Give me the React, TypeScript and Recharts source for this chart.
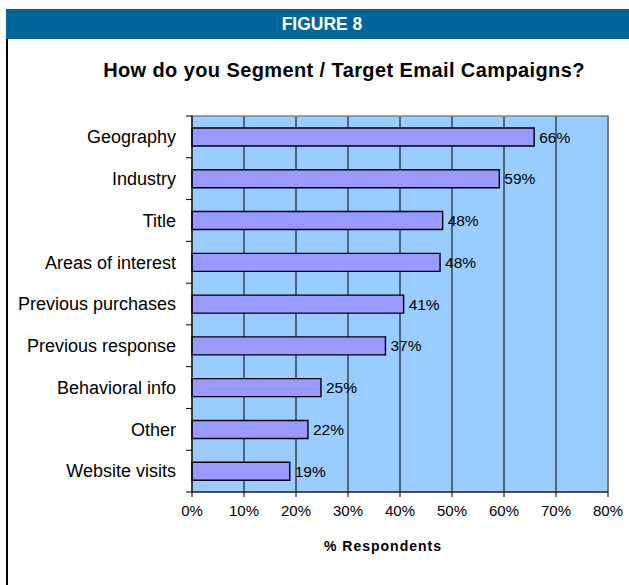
import { BarChart, Bar, XAxis, YAxis, CartesianGrid, LabelList, ReferenceArea } from 'recharts'

const categories = [
  'Geography', 'Industry', 'Title', 'Areas of interest', 'Previous purchases',
  'Previous response', 'Behavioral info', 'Other', 'Website visits',
]
const respondents = [65.8, 59.1, 48.2, 47.7, 40.7, 37.2, 24.8, 22.3, 18.8]
const xTicks = [0, 10, 20, 30, 40, 50, 60, 70, 80]

const data = categories.map((name, i) => ({ name, value: respondents[i] }))

const W = 629
const H = 585
const PLOT_TOP = 116
const PLOT_BOTTOM = 492
const Y_AXIS_W = 192
const RIGHT = 21
const X_AXIS_H = 30
const BAND = (PLOT_BOTTOM - PLOT_TOP) / categories.length
const FONT = "'Liberation Sans', Arial, sans-serif"

const CategoryTick = ({ x, y, payload, index }: any) => {
  const axisX = x + 16
  const top = y - BAND / 2
  return (
    <g>
      <line x1={axisX - 6} x2={axisX} y1={top} y2={top} stroke="#000" />
      {index === categories.length - 1 && (
        <line x1={axisX - 6} x2={axisX} y1={top + BAND} y2={top + BAND} stroke="#000" />
      )}
      <text x={x} y={y} dy="0.35em" textAnchor="end" fontSize={18} fill="#000" fontFamily={FONT}>
        {payload.value}
      </text>
    </g>
  )
}

export default function App() {
  return (
    <div style={{ position: 'absolute', left: 0, top: 0, width: W, height: H, background: '#fff', fontFamily: FONT }}>
      <div style={{ position: 'absolute', left: 6, top: 9, width: W - 6, height: 30, background: '#006699' }} />
      <div style={{
        position: 'absolute', left: 222, top: 9, width: 200, height: 30,
        color: '#fff', display: 'flex', alignItems: 'center', justifyContent: 'center',
        fontWeight: 700, fontSize: 19, transform: 'scaleX(0.92)',
      }}>
        FIGURE 8
      </div>
      <div style={{ position: 'absolute', left: 6, top: 39, width: 1.5, height: H - 39, background: '#000' }} />
      <div style={{
        position: 'absolute', left: 44, width: 600, top: 59, textAlign: 'center',
        fontWeight: 700, fontSize: 20, letterSpacing: 0.4, color: '#000', whiteSpace: 'nowrap',
      }}>
        How do you Segment / Target Email Campaigns?
      </div>
      <div style={{
        position: 'absolute', left: 283, width: 200, top: 538, textAlign: 'center',
        fontWeight: 700, fontSize: 14, letterSpacing: 1, color: '#000',
      }}>
        % Respondents
      </div>
      <div style={{ position: 'absolute', left: 0, top: 0 }}>
        <BarChart
          width={W}
          height={H}
          data={data}
          layout="vertical"
          margin={{ top: PLOT_TOP, right: RIGHT, left: 0, bottom: H - PLOT_BOTTOM - X_AXIS_H }}
          barSize={18}
        >
          <CartesianGrid fill="#99CCFF" stroke="#000" horizontal={false} vertical />
          <ReferenceArea x1={0} x2={80} fill="none" stroke="#808080" strokeWidth={1.5} ifOverflow="visible" />
          <XAxis
            type="number"
            domain={[0, 80]}
            ticks={xTicks}
            tickFormatter={(v) => `${v}%`}
            height={X_AXIS_H}
            tick={{ fontSize: 15, fill: '#000', fontFamily: FONT }}
            tickSize={5}
            tickMargin={8}
            stroke="#000"
            axisLine={{ stroke: '#000' }}
          />
          <YAxis
            type="category"
            dataKey="name"
            width={Y_AXIS_W}
            tick={<CategoryTick />}
            tickLine={false}
            tickSize={6}
            tickMargin={10}
            axisLine={{ stroke: '#000' }}
            interval={0}
          />
          <Bar dataKey="value" fill="#9999FF" stroke="#000" strokeWidth={1.4} isAnimationActive={false}>
            <LabelList
              dataKey="value"
              position="right"
              offset={5}
              formatter={(v: any) => `${Math.round(v)}%`}
              style={{ fontSize: 15.5, fill: '#000', fontFamily: FONT }}
            />
          </Bar>
        </BarChart>
      </div>
    </div>
  )
}
